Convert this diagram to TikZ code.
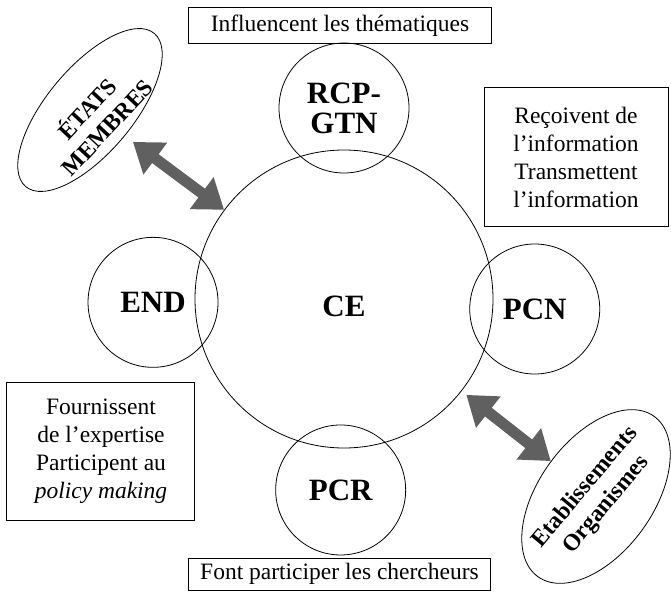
\documentclass[tikz,border=0pt]{standalone}
\usepackage{fontspec}
\setmainfont{Liberation Serif}
\usetikzlibrary{shapes.geometric,arrows.meta}
\definecolor{arrowgray}{RGB}{96,96,96}

\begin{document}
\begin{tikzpicture}
    [x=1pt, y=1pt,
     member/.style={circle, draw, line width=0.8pt, minimum size=130pt,
       inner sep=0pt, align=center, font=\fontsize{31}{30}\selectfont\bfseries},
     note/.style={draw, line width=1pt, inner sep=0pt, align=center,
       font=\fontsize{23.5}{28}\selectfont},
     actor/.style={ellipse, draw, line width=0.8pt, inner sep=0pt},
     actortext/.style={align=center, inner sep=0pt,
       font=\fontsize{23.5}{27.5}\selectfont\bfseries},
     exchange/.style={line width=11pt, draw=arrowgray,
       {Triangle[length=28pt,width=38pt]}-{Triangle[length=28pt,width=38pt]}}]
    \def \dist {191}
    \useasboundingbox (-344,-293) rectangle (327,299);

    \node[member, minimum size=298pt, text height=36pt] (CE) at (0,0) {CE};

    \foreach \name/\angle/\txt in {RCP/90/RCP-\\GTN, END/181/END, PCN/-3/PCN, PCR/269/PCR}
    {
      \node[member] (\name) at (\angle:\dist) {\txt};
    }

    % boxes
    \node[note, minimum width=302pt, minimum height=36pt] (themes) at (-4,273) {Influencent les thématiques};
    \node[note, minimum width=184pt, minimum height=138pt] (info) at (232,142) {Reçoivent de\\l'information\\Transmettent\\l'information};
    \node[note, minimum width=188pt, minimum height=138pt] (expertise) at (-243,-152) {Fournissent\\de l'expertise\\Participent au\\\textit{policy making}};
    \node[note, minimum width=301pt, minimum height=32pt] (chercheurs) at (-4.5,-275) {Font participer les chercheurs};

    % ellipses
    \node[actor, minimum width=200pt, minimum height=86pt, rotate=50] (etats) at (-254,189) {};
    \node[actortext, rotate=47] (etatstext) at (-248,182) {ÉTATS\\MEMBRES};
    \node[actor, minimum width=198pt, minimum height=114pt, rotate=54] (etab) at (252,-197.5) {};
    \node[actortext, rotate=50] (etabtext) at (etab) {Etablissements\\Organismes};

    \draw[exchange, shorten <=10pt] (etats) -- (CE);
    \draw[exchange, shorten <=6pt] (CE) -- (etab);
\end{tikzpicture}
\end{document}
